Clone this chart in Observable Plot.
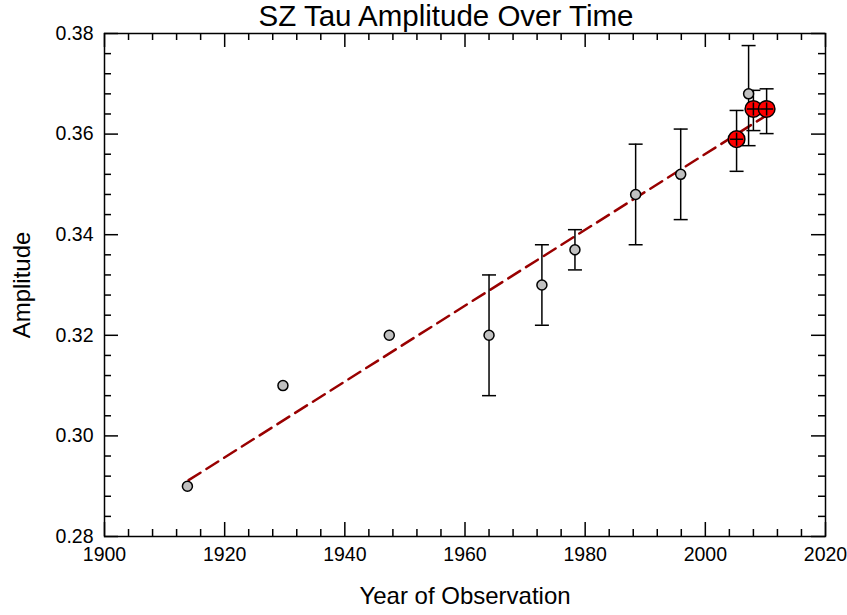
<!DOCTYPE html>
<html><head><meta charset="utf-8">
<script src="https://cdn.jsdelivr.net/npm/d3@7"></script>
<script src="https://cdn.jsdelivr.net/npm/@observablehq/plot@0.6"></script>
<style>
body{margin:0;background:#fff;}
#wrap{position:relative;width:847px;height:615px;font-family:"Liberation Sans",Arial,sans-serif;}
#title{position:absolute;top:1px;left:446px;transform:translateX(-50%);white-space:nowrap;font-size:29.5px;line-height:30px;color:#000;}
</style></head><body>
<div id="wrap"><div id="title">SZ Tau Amplitude Over Time</div></div>
<script>
// Gray points (older observations)
const years   = [1913.8, 1929.7, 1947.4, 1964.0, 1972.8, 1978.3, 1988.4, 1995.9, 2007.2];
const amps    = [0.290, 0.310, 0.320, 0.320, 0.330, 0.337, 0.348, 0.352, 0.368];
const errLow  = [null, null, null, 0.308, 0.322, 0.333, 0.338, 0.343, 0.3577];
const errHigh = [null, null, null, 0.332, 0.338, 0.341, 0.358, 0.361, 0.3776];
// Red points (recent observations)
const redYears = [2005.2, 2008.0, 2010.2];
const redAmps  = [0.359, 0.365, 0.365];
const redLow   = [0.3526, 0.3607, 0.3601];
const redHigh  = [0.3647, 0.3687, 0.3690];
// Linear fit endpoints
const fitYears = [1914.0, 2011.2];
const fitAmps  = [0.2912, 0.3645];
// Tick labels
const xTicks = [1900, 1920, 1940, 1960, 1980, 2000, 2020];
const yTicks = [0.28, 0.30, 0.32, 0.34, 0.36, 0.38];
const xTitle = "Year of Observation";
const yTitle = "Amplitude";

const gray = years.map((x, i) => ({x, y: amps[i], lo: errLow[i], hi: errHigh[i]}));
const red = redYears.map((x, i) => ({x, y: redAmps[i], lo: redLow[i], hi: redHigh[i]}));
const grayErr = gray.filter(d => d.lo != null);
const fit = fitYears.map((x, i) => ({x, y: fitAmps[i]}));

const W = 847, H = 615, mL = 104, mR = 22, mT = 33, mB = 79;
const PW = W - mL - mR, PH = H - mT - mB;

const xMajor = xTicks;
const xMinor = d3.range(1900, 2020.001, 4).filter(v => !xMajor.some(m => Math.abs(m - v) < 1e-6));
const yMajor = yTicks;
const yMinor = d3.range(0, 26).map(i => 0.28 + i * 0.004).filter(v => !yMajor.some(m => Math.abs(m - v) < 1e-6));

const capSymbol = {draw(ctx, size) { const r = Math.sqrt(size / Math.PI); ctx.moveTo(-r, 0); ctx.lineTo(r, 0); }};
const crossSymbol = {draw(ctx, size) { const r = Math.sqrt(size / Math.PI); ctx.moveTo(-r, 0); ctx.lineTo(r, 0); ctx.moveTo(0, -r); ctx.lineTo(0, r); }};

const errMarks = (data) => [
  Plot.ruleX(data, {x: "x", y1: "lo", y2: "hi", stroke: "black", strokeWidth: 1.5}),
  Plot.dot(data, {x: "x", y: "lo", symbol: capSymbol, r: 7, stroke: "black", strokeWidth: 1.5, fill: "none"}),
  Plot.dot(data, {x: "x", y: "hi", symbol: capSymbol, r: 7, stroke: "black", strokeWidth: 1.5, fill: "none"})
];

const chart = Plot.plot({
  width: W, height: H,
  marginLeft: mL, marginRight: mR, marginTop: mT, marginBottom: mB,
  style: {fontFamily: "'Liberation Sans', Arial, sans-serif", fontSize: "19px", color: "black", background: "white"},
  x: {domain: [1900, 2020]},
  y: {domain: [0.28, 0.38]},
  marks: [
    Plot.axisX({ticks: xTicks, tickSize: 0, tickPadding: 11, tickFormat: d3.format("d"), label: null, fontSize: 19.5}),
    Plot.axisY({ticks: yTicks, tickSize: 0, tickPadding: 11, tickFormat: d3.format(".2f"), label: null, fontSize: 19.5}),
    // inward ticks: bottom, top
    Plot.tickX(xMajor, {x: d => d, insetTop: PH - 14, stroke: "black", strokeWidth: 1.5}),
    Plot.tickX(xMinor, {x: d => d, insetTop: PH - 7, stroke: "black", strokeWidth: 1.5}),
    Plot.tickX(xMajor, {x: d => d, insetBottom: PH - 14, stroke: "black", strokeWidth: 1.5}),
    Plot.tickX(xMinor, {x: d => d, insetBottom: PH - 7, stroke: "black", strokeWidth: 1.5}),
    // inward ticks: left, right
    Plot.tickY(yMajor, {y: d => d, insetRight: PW - 14, stroke: "black", strokeWidth: 1.5}),
    Plot.tickY(yMinor, {y: d => d, insetRight: PW - 7, stroke: "black", strokeWidth: 1.5}),
    Plot.tickY(yMajor, {y: d => d, insetLeft: PW - 14, stroke: "black", strokeWidth: 1.5}),
    Plot.tickY(yMinor, {y: d => d, insetLeft: PW - 7, stroke: "black", strokeWidth: 1.5}),
    Plot.frame({stroke: "black", strokeWidth: 1.5}),
    Plot.line(fit, {x: "x", y: "y", stroke: "#990000", strokeWidth: 2.5, strokeDasharray: "14,7"}),
    ...errMarks(grayErr),
    ...errMarks(red),
    Plot.dot(gray, {x: "x", y: "y", r: 5, fill: "#c0c0c0", stroke: "black", strokeWidth: 1.5}),
    Plot.dot(red, {x: "x", y: "y", r: 8.3, fill: "#ff0000", stroke: "black", strokeWidth: 1.5}),
    Plot.dot(red, {x: "x", y: "y", symbol: crossSymbol, r: 6.5, stroke: "black", strokeWidth: 1.5, fill: "none"}),
    Plot.text([xTitle], {frameAnchor: "bottom", dy: 67, fontSize: 24, fill: "black", textAnchor: "middle"}),
    Plot.text([yTitle], {frameAnchor: "left", dx: -82, rotate: -90, fontSize: 24, fill: "black", textAnchor: "middle"})
  ]
});
document.getElementById("wrap").appendChild(chart);
</script>
</body></html>
